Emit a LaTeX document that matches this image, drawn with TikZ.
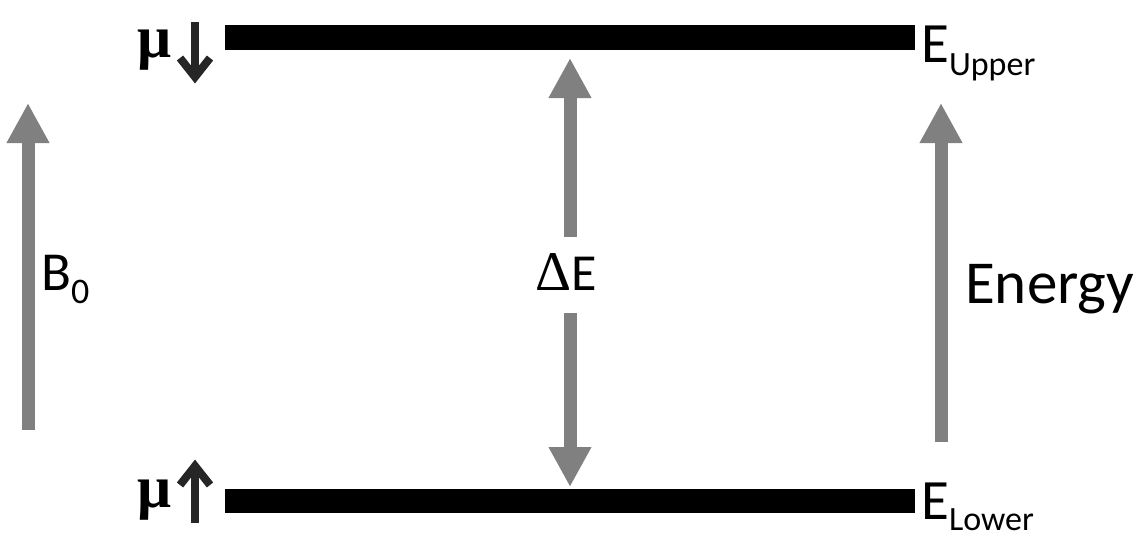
\documentclass[tikz,border=0pt]{standalone}
\usepackage{fontspec}
\setmainfont{Carlito}
\newfontfamily\serifmu{Liberation Serif}
\usetikzlibrary{arrows.meta}
\definecolor{arrgray}{HTML}{808080}
\definecolor{spingray}{HTML}{262626}
\tikzset{
  bigarrow/.style={draw=arrgray, line width=13pt, -{Triangle[length=40pt,width=40pt]}},
  spinarrow/.style={draw=spingray, line width=8pt, line join=miter},
  level/.style={fill=black},
  lbl/.style={inner sep=0pt, anchor=base west, text=black},
}
\begin{document}
\begin{tikzpicture}[x=1pt,y=-1pt]
\useasboundingbox (0,0) rectangle (1140,538);
% energy levels
\fill[level] (225,25) rectangle (915,50);
\fill[level] (225,489) rectangle (915,513);
% coordinates for arrows
\coordinate (b0s) at (28,430);
\coordinate (b0e) at (28,103);
\coordinate (ens) at (941,442);
\coordinate (ene) at (941,103);
\coordinate (dus) at (570,237);
\coordinate (due) at (570,58);
\coordinate (dds) at (570,313);
\coordinate (dde) at (570,487);
\draw[bigarrow] (b0s) -- (b0e);
\draw[bigarrow] (ens) -- (ene);
\draw[bigarrow] (dus) -- (due);
\draw[bigarrow] (dds) -- (dde);
% spin arrows
\coordinate (sdt) at (195,22);
\coordinate (sdb) at (195,77);
\coordinate (sdl) at (180,58);
\coordinate (sdr) at (210,58);
\draw[spinarrow] (sdt) -- (sdb);
\draw[spinarrow] (sdl) -- (sdb) -- (sdr);
\coordinate (sut) at (195,466);
\coordinate (sub) at (195,523);
\coordinate (sul) at (180,485);
\coordinate (sur) at (210,485);
\draw[spinarrow] (sub) -- (sut);
\draw[spinarrow] (sul) -- (sut) -- (sur);
% labels
\node[lbl] (muup) at (137,57) {\fontsize{60}{60}\selectfont\serifmu\bfseries μ};
\node[lbl] (mulo) at (137,507) {\fontsize{60}{60}\selectfont\serifmu\bfseries μ};
\node[lbl] (eup) at (921,62) {\fontsize{57}{57}\selectfont E\raisebox{-13pt}{\fontsize{34}{34}\selectfont Upper}};
\node[lbl] (elo) at (921,519) {\fontsize{57}{57}\selectfont E\raisebox{-11pt}{\fontsize{34}{34}\selectfont Lower}};
\node[lbl] (bz) at (41,290) {\fontsize{55}{55}\selectfont B\raisebox{-13pt}{\fontsize{36}{36}\selectfont 0}};
\node[inner sep=0pt, anchor=base] (de) at (566,290) {{\fontsize{56}{56}\selectfont\serifmu Δ}{\fontsize{52}{52}\selectfont E}};
\node[lbl] (en) at (965,303) {\fontsize{61}{61}\selectfont Energy};
\end{tikzpicture}
\end{document}
